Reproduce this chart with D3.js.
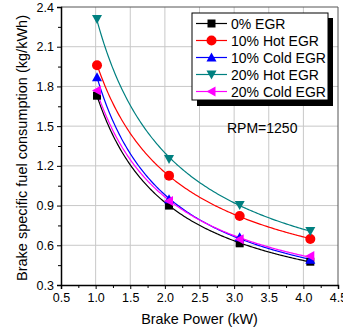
<!DOCTYPE html>
<html lang="en">
<head>
    <meta charset="UTF-8">
    <title>BSFC vs Brake Power</title>
    <script src="https://d3js.org/d3.v7.min.js"></script>
    <style>
        body { margin: 0; background: #fff; }
        text { font-family: "Liberation Sans", Arial, sans-serif; }
    </style>
</head>
<body>
    <svg id="chart"></svg>

    <script>
        // Data
        const power = [1.02, 2.06, 3.08, 4.1];
        const seriesNames = ["0% EGR", "10% Hot EGR", "10% Cold EGR", "20% Hot EGR", "20% Cold EGR"];
        const egr0 = [1.73, 0.90, 0.615, 0.476];
        const hot10 = [1.96, 1.126, 0.821, 0.647];
        const cold10 = [1.87, 0.947, 0.66, 0.49];
        const hot20 = [2.31, 1.252, 0.904, 0.708];
        const cold20 = [1.77, 0.934, 0.645, 0.519];
        const xTicks = [0.5, 1.0, 1.5, 2.0, 2.5, 3.0, 3.5, 4.0, 4.5];
        const yTicks = [0.3, 0.6, 0.9, 1.2, 1.5, 1.8, 2.1, 2.4];

        const colors = ["#000000", "#ff0000", "#0000ff", "#008080", "#ff00ff"];
        const shapes = ["square", "circle", "triUp", "triDown", "triLeft"];
        const allSeries = [egr0, hot10, cold10, hot20, cold20];

        const W = 343, H = 335;
        const pL = 61, pR = 338, pT = 7, pB = 285;

        const svg = d3.select("#chart").attr("width", W).attr("height", H);

        const x = d3.scaleLinear().domain([0.5, 4.5]).range([pL, pR]);
        const y = d3.scaleLinear().domain([0.3, 2.4]).range([pB, pT]);

        // grid
        svg.append("g").selectAll("line").data(xTicks.slice(1, -1)).join("line")
            .attr("x1", d => x(d)).attr("x2", d => x(d))
            .attr("y1", pT).attr("y2", pB)
            .attr("stroke", "#c8c8c8").attr("stroke-width", 1);
        svg.append("g").selectAll("line").data(yTicks.slice(1, -1)).join("line")
            .attr("x1", pL).attr("x2", pR)
            .attr("y1", d => y(d)).attr("y2", d => y(d))
            .attr("stroke", "#c8c8c8").attr("stroke-width", 1);

        // frame top/right
        svg.append("path")
            .attr("d", `M${pL},${pT}H${pR}V${pB}`)
            .attr("fill", "none").attr("stroke", "#555").attr("stroke-width", 1);

        // axes
        const xMinor = d3.range(0.75, 4.5, 0.5);
        const yMinor = d3.range(0.45, 2.4, 0.3);

        const xAxis = svg.append("g").attr("transform", `translate(0,${pB})`)
            .call(d3.axisBottom(x).tickValues(xTicks).tickFormat(d3.format(".1f")).tickSize(4).tickPadding(4));
        svg.append("g").attr("transform", `translate(0,${pB})`)
            .call(d3.axisBottom(x).tickValues(xMinor).tickFormat("").tickSize(3))
            .select(".domain").remove();
        const yAxis = svg.append("g").attr("transform", `translate(${pL},0)`)
            .call(d3.axisLeft(y).tickValues(yTicks).tickFormat(d3.format(".1f")).tickSize(4).tickPadding(3));
        svg.append("g").attr("transform", `translate(${pL},0)`)
            .call(d3.axisLeft(y).tickValues(yMinor).tickFormat("").tickSize(3))
            .select(".domain").remove();

        svg.selectAll(".domain").attr("stroke", "#000").attr("stroke-width", 1.5);
        svg.selectAll(".tick line").attr("stroke", "#000");
        xAxis.selectAll("text").attr("font-size", 12.5).attr("fill", "#000");
        yAxis.selectAll("text").attr("font-size", 12.5).attr("fill", "#000");

        // axis titles
        svg.append("text")
            .attr("x", (pL + pR) / 2).attr("y", 324)
            .attr("text-anchor", "middle").attr("font-size", 14.4)
            .text("Brake Power (kW)");
        svg.append("text")
            .attr("transform", `translate(26.5,${(pT + pB) / 2 + 2}) rotate(-90)`)
            .attr("text-anchor", "middle").attr("font-size", 14.5)
            .text("Brake specific fuel consumption (kg/kWh)");

        // power-law fit y = a * x^b (least squares in log-log)
        function powerFit(xs, ys) {
            const lx = xs.map(Math.log), ly = ys.map(Math.log);
            const mx = d3.mean(lx), my = d3.mean(ly);
            const b = d3.sum(lx, (v, i) => (v - mx) * (ly[i] - my)) / d3.sum(lx, v => (v - mx) * (v - mx));
            const a = Math.exp(my - b * mx);
            return v => a * Math.pow(v, b);
        }

        const line = d3.line().x(d => x(d[0])).y(d => y(d[1]));

        function marker(g, shape, color, cx, cy) {
            const s = 4.5;
            if (shape === "square") {
                g.append("rect").attr("x", cx - 4).attr("y", cy - 4).attr("width", 8).attr("height", 8).attr("fill", color);
            } else if (shape === "circle") {
                g.append("circle").attr("cx", cx).attr("cy", cy).attr("r", 5).attr("fill", color);
            } else if (shape === "triUp") {
                g.append("path").attr("d", `M${cx},${cy - s - 0.5}L${cx + s + 0.5},${cy + s - 0.5}L${cx - s - 0.5},${cy + s - 0.5}Z`).attr("fill", color);
            } else if (shape === "triDown") {
                g.append("path").attr("d", `M${cx},${cy + s + 0.5}L${cx + s + 0.5},${cy - s + 0.5}L${cx - s - 0.5},${cy - s + 0.5}Z`).attr("fill", color);
            } else if (shape === "triLeft") {
                g.append("path").attr("d", `M${cx - s - 0.5},${cy}L${cx + s - 0.5},${cy - s - 0.5}L${cx + s - 0.5},${cy + s + 0.5}Z`).attr("fill", color);
            }
        }

        const plot = svg.append("g");
        allSeries.forEach((vals, i) => {
            const f = powerFit(power, vals);
            const xs = d3.range(power[0], power[power.length - 1] + 0.001, 0.02);
            plot.append("path")
                .datum(xs.map(v => [v, f(v)]))
                .attr("d", line)
                .attr("fill", "none").attr("stroke", colors[i]).attr("stroke-width", 1.2);
        });
        allSeries.forEach((vals, i) => {
            vals.forEach((v, j) => marker(plot, shapes[i], colors[i], x(power[j]), y(v)));
        });

        // legend
        const lg = svg.append("g");
        lg.append("rect").attr("x", 197).attr("y", 18).attr("width", 136).attr("height", 88).attr("fill", "#000");
        lg.append("rect").attr("x", 192).attr("y", 13).attr("width", 136).attr("height", 87)
            .attr("fill", "#fff").attr("stroke", "#000").attr("stroke-width", 1);
        seriesNames.forEach((name, i) => {
            const ly = 23.5 + i * 17;
            lg.append("line").attr("x1", 196).attr("x2", 227).attr("y1", ly).attr("y2", ly)
                .attr("stroke", colors[i]).attr("stroke-width", 1.2);
            marker(lg, shapes[i], colors[i], 211.5, ly);
            lg.append("text").attr("x", 231).attr("y", ly + 5).attr("font-size", 14).text(name);
        });

        svg.append("text").attr("x", 227).attr("y", 133).attr("font-size", 14).text("RPM=1250");
    </script>
</body>
</html>
